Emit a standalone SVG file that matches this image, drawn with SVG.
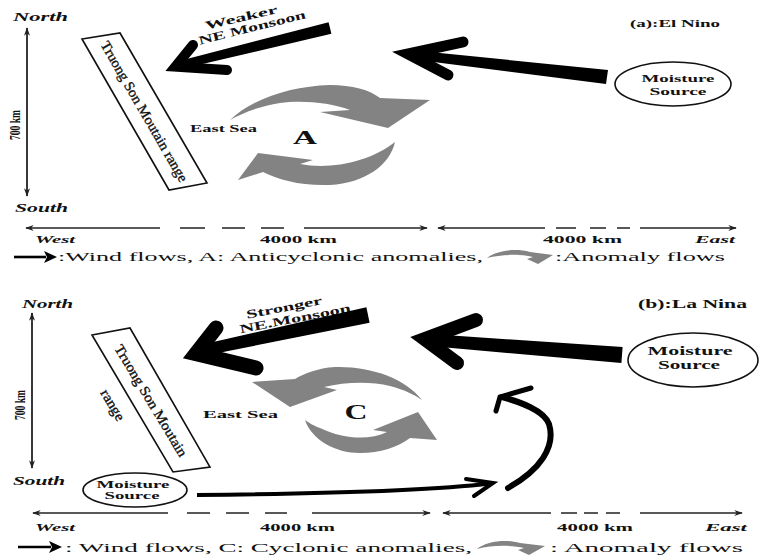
<svg xmlns="http://www.w3.org/2000/svg" width="760" height="558" viewBox="0 0 760 558">
<style>
text{font-family:"Liberation Serif","Times New Roman",serif;fill:#111}
.b{font-weight:bold}
.bi{font-weight:bold;font-style:italic}
.mt{stroke:#111;stroke-width:0.35}
.ax{stroke:#222;stroke-width:1.3;fill:none}
.vx{stroke:#222;stroke-width:1.8;fill:none}
.blk{fill:#000}
.head{fill:none;stroke:#000;stroke-linecap:round;stroke-linejoin:miter;stroke-miterlimit:10}
.gray{fill:#838383}
.box{fill:#fff;stroke:#111;stroke-width:1.6}
.ell{fill:#fff;stroke:#111;stroke-width:1.6}
</style>
<defs>
<marker id="ah" viewBox="0 0 10 7" refX="9" refY="3.5" markerWidth="9" markerHeight="6" markerUnits="userSpaceOnUse" orient="auto-start-reverse"><path d="M0,0 L10,3.5 L0,7 L3,3.5 Z" fill="#222"/></marker>
</defs>
<rect width="760" height="558" fill="#fff"/>

<!-- ============ PANEL A ============ -->
<g id="a-compass">
<text class="bi" x="13" y="21" font-size="12" textLength="55" lengthAdjust="spacingAndGlyphs">North</text>
<text class="bi" x="15" y="212" font-size="12" textLength="53" lengthAdjust="spacingAndGlyphs">South</text>
<text class="b" transform="translate(19.5,125) rotate(-90)" text-anchor="middle" font-size="14" textLength="30" lengthAdjust="spacingAndGlyphs">700 km</text>
</g>
<g id="a-mountain">
<polygon class="box" points="82,39 120,33 207,183 169,190"/>
<text class="mt" transform="translate(144.5,111.3) rotate(60)" x="0" y="5" text-anchor="middle" font-size="14" textLength="160" lengthAdjust="spacingAndGlyphs">Truong Son Moutain range</text>
</g>
<g id="a-monsoon-label">
<text class="b" transform="translate(241,17) rotate(-13)" x="0" y="4.5" text-anchor="middle" font-size="12" textLength="74" lengthAdjust="spacingAndGlyphs">Weaker</text>
<text class="b" transform="translate(252,27) rotate(-14)" x="0" y="4.5" text-anchor="middle" font-size="12" textLength="110" lengthAdjust="spacingAndGlyphs">NE Monsoon</text>
</g>
<g id="a-eastsea">
<text class="b" x="190" y="132" font-size="10" textLength="67" lengthAdjust="spacingAndGlyphs">East Sea</text>
</g>
<g id="a-anomaly">
<path class="gray" d="M230,120 C250,100 290,86 330,85 C352,85 370,90 380,98 L430,100 L388,128 L320,112 L350,110 C330,102 300,100 280,103 C260,106 242,113 230,120 Z"/>
<path class="gray" d="M395,142 C390,165 365,183 330,185 C300,186 280,180 263,172 L238,180 L258,153 L313,160 L300,164 C330,170 370,162 395,142 Z"/>
<text class="b" x="305" y="144" text-anchor="middle" font-size="19" textLength="24" lengthAdjust="spacingAndGlyphs">A</text>
</g>
<g id="a-title">
<text class="b" x="630" y="27" font-size="11" textLength="90" lengthAdjust="spacingAndGlyphs">(a):El Nino</text>
</g>
<g id="a-moisture">
<ellipse class="ell" cx="673" cy="84" rx="58" ry="22"/>
<text class="b" x="678" y="82" text-anchor="middle" font-size="11" textLength="73" lengthAdjust="spacingAndGlyphs">Moisture</text>
<text class="b" x="678" y="95" text-anchor="middle" font-size="11" textLength="57" lengthAdjust="spacingAndGlyphs">Source</text>
</g>
<g id="a-scale">
<path class="ax" d="M26,228 H160" marker-start="url(#ah)"/>
<path class="ax" d="M180,228 H205 M222,228 H245 M261,228 H284"/>
<path class="ax" d="M304,228 H427" marker-end="url(#ah)"/>
<path class="ax" d="M438,228 H545" marker-start="url(#ah)"/>
<path class="ax" d="M556,228 H576 M590,228 H606 M617,228 H630"/>
<path class="ax" d="M640,228 H736" marker-end="url(#ah)"/>
<text class="bi" x="35" y="243" font-size="11" textLength="40" lengthAdjust="spacingAndGlyphs">West</text>
<text class="b" x="260" y="243" font-size="11" textLength="77" lengthAdjust="spacingAndGlyphs">4000 km</text>
<text class="b" x="543" y="243" font-size="11" textLength="79" lengthAdjust="spacingAndGlyphs">4000 km</text>
<text class="bi" x="695" y="243" font-size="11" textLength="40" lengthAdjust="spacingAndGlyphs">East</text>
</g>
<g id="a-legend">
<path d="M14,257 H46" stroke="#000" stroke-width="2.6"/>
<path d="M44,251 L57,257 L44,263 L47,257 Z" fill="#000"/>
<text x="58" y="261" font-size="13" textLength="425" lengthAdjust="spacingAndGlyphs">:Wind flows, A: Anticyclonic anomalies,</text>
<path class="gray" d="M487,258 C497,250 516,248 530,252 L553,255 L538,264 L527,259 L533,257 C520,254 502,254 487,258 Z"/>
<text x="555" y="261" font-size="13" textLength="170" lengthAdjust="spacingAndGlyphs">:Anomaly flows</text>
</g>

<!-- ============ PANEL B ============ -->
<g id="b-compass">
<text class="bi" x="22" y="308" font-size="12" textLength="51" lengthAdjust="spacingAndGlyphs">North</text>
<text class="bi" x="13" y="485" font-size="12" textLength="52" lengthAdjust="spacingAndGlyphs">South</text>
<text class="b" transform="translate(24.5,405) rotate(-90)" text-anchor="middle" font-size="14" textLength="30" lengthAdjust="spacingAndGlyphs">700 km</text>
</g>
<g id="b-mountain">
<polygon class="box" points="92,335 130,328 210,467 173,472"/>
<text class="mt" transform="translate(151.3,400.5) rotate(59)" x="0" y="5" text-anchor="middle" font-size="14" textLength="128" lengthAdjust="spacingAndGlyphs">Truong Son Moutain</text>
<text class="mt" transform="translate(151.3,400.5) rotate(59)" x="-16" y="40" text-anchor="middle" font-size="14" textLength="34" lengthAdjust="spacingAndGlyphs">range</text>
</g>
<g id="b-monsoon-label">
<text class="b" transform="translate(284,307) rotate(-11)" x="0" y="4.5" text-anchor="middle" font-size="12" textLength="77" lengthAdjust="spacingAndGlyphs">Stronger</text>
<text class="b" transform="translate(295,318) rotate(-11)" x="0" y="4.5" text-anchor="middle" font-size="12" textLength="113" lengthAdjust="spacingAndGlyphs">NE.Monsoon</text>
</g>
<g id="b-eastsea">
<text class="b" x="203" y="418" font-size="11" textLength="75" lengthAdjust="spacingAndGlyphs">East Sea</text>
</g>
<g id="b-anomaly">
<path class="gray" d="M422,400 C405,378 370,366 335,367 C318,368 303,374 295,379 L252,382 L290,407 L337,390 L324,387 C345,382 370,381 390,386 C405,390 415,395 422,400 Z"/>
<path class="gray" d="M305,420 C312,440 335,453 360,453 C380,453 398,447 410,438 L437,440 L418,412 L373,430 L387,432 C370,440 345,440 320,428 C312,425 308,422 305,420 Z"/>
<text class="b" x="356" y="419" text-anchor="middle" font-size="20" textLength="23" lengthAdjust="spacingAndGlyphs">C</text>
</g>
<g id="b-title">
<text class="b" x="638" y="308" font-size="12" textLength="109" lengthAdjust="spacingAndGlyphs">(b):La Nina</text>
</g>
<g id="b-moisture-east">
<ellipse class="ell" cx="693" cy="360" rx="65" ry="27"/>
<text class="b" x="690" y="355" text-anchor="middle" font-size="11.5" textLength="85" lengthAdjust="spacingAndGlyphs">Moisture</text>
<text class="b" x="689" y="368.5" text-anchor="middle" font-size="11.5" textLength="62" lengthAdjust="spacingAndGlyphs">Source</text>
</g>
<g id="b-moisture-south">
<ellipse class="ell" cx="135" cy="490" rx="52" ry="17"/>
<text class="b" x="133" y="487.5" text-anchor="middle" font-size="10.5" textLength="73" lengthAdjust="spacingAndGlyphs">Moisture</text>
<text class="b" x="132" y="499" text-anchor="middle" font-size="10.5" textLength="55" lengthAdjust="spacingAndGlyphs">Source</text>
</g>
<g id="b-scale">
<path class="ax" d="M33,513 H168" marker-start="url(#ah)"/>
<path class="ax" d="M187,513 H210 M226,513 H249 M265,513 H287"/>
<path class="ax" d="M312,513 H430" marker-end="url(#ah)"/>
<path class="ax" d="M443,513 H551" marker-start="url(#ah)"/>
<path class="ax" d="M561,513 H577 M584,513 H598 M606,513 H620"/>
<path class="ax" d="M640,513 H742" marker-end="url(#ah)"/>
<text class="bi" x="35" y="531" font-size="11" textLength="40" lengthAdjust="spacingAndGlyphs">West</text>
<text class="b" x="260" y="531" font-size="11" textLength="75" lengthAdjust="spacingAndGlyphs">4000 km</text>
<text class="b" x="557" y="531" font-size="11" textLength="76" lengthAdjust="spacingAndGlyphs">4000 km</text>
<text class="bi" x="705" y="531" font-size="11" textLength="42" lengthAdjust="spacingAndGlyphs">East</text>
</g>
<g id="b-legend">
<path d="M18,547 H51" stroke="#000" stroke-width="2.6"/>
<path d="M49,541 L62,547 L49,553 L52,547 Z" fill="#000"/>
<text x="65" y="552" font-size="13" textLength="407" lengthAdjust="spacingAndGlyphs">: Wind flows, C: Cyclonic anomalies,</text>
<path class="gray" d="M477,549 C487,541 506,539 520,543 L545,546 L529,555 L518,550 L524,548 C511,545 492,545 477,549 Z"/>
<text x="550" y="552" font-size="13" textLength="193" lengthAdjust="spacingAndGlyphs">: Anomaly flows</text>
</g>

<!-- ============ CONNECTORS ============ -->
<g id="connectors">
<path class="vx" d="M27,28 V196" marker-start="url(#ah)" marker-end="url(#ah)"/>
<path class="vx" d="M32,313 V468" marker-start="url(#ah)" marker-end="url(#ah)"/>
<!-- panel a monsoon -->
<polygon class="blk" points="328.6,22.2 331.4,33.8 181,69 179,61"/>
<polyline class="head" stroke-width="10" points="193,45 175.4,66.7 227,70"/>
<!-- panel a moisture flow -->
<polygon class="blk" points="608,70 606,84 414,59.5 415,50.5"/>
<polyline class="head" stroke-width="11" points="463,42 408,54 448,75"/>
<!-- panel b monsoon -->
<polygon class="blk" points="366.4,307.2 369.6,322.8 203,356 200,345"/>
<polyline class="head" stroke-width="15" points="216,328 196,353.6 256,368"/>
<!-- panel b moisture flow east -->
<polygon class="blk" points="622.6,347 621.4,363 429.5,346 430.5,334"/>
<polyline class="head" stroke-width="14" points="476,320 424.8,339.1 457,363"/>
<!-- panel b moisture flow south -->
<path d="M197,495 C300,494 420,492 490,483.5" fill="none" stroke="#000" stroke-width="4"/>
<polyline class="head" stroke-width="4" points="466,479 493,483 474,496"/>
<path d="M508,488 C540,470 556,447 549,424 C544,410 520,402 502,397" fill="none" stroke="#000" stroke-width="6" stroke-linecap="round"/>
<polyline class="head" stroke-width="5" points="531,388 500,397 496,411"/>
</g>
</svg>
